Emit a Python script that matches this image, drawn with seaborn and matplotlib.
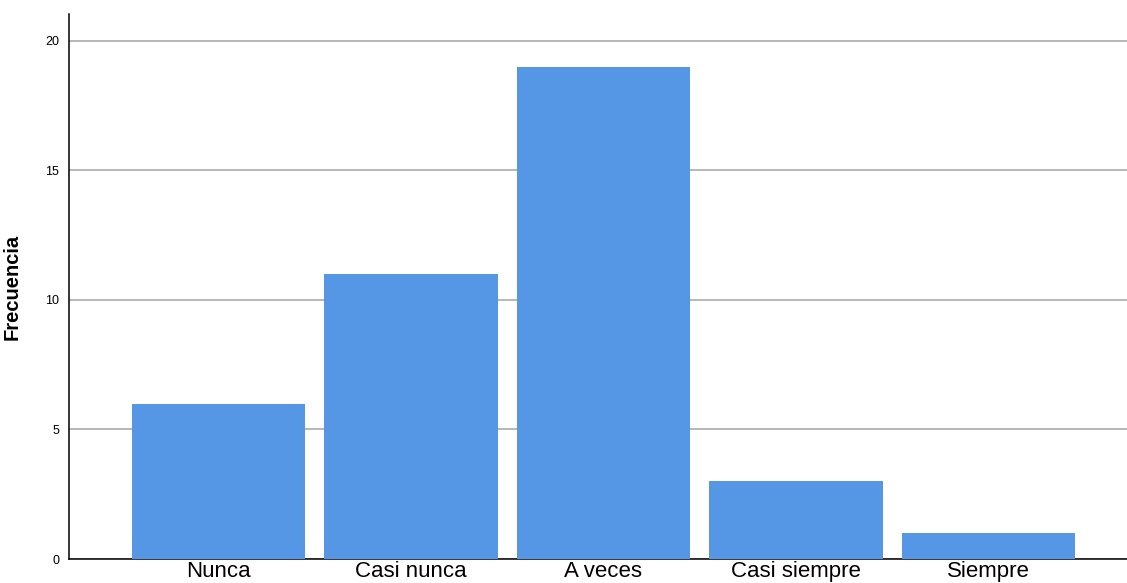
import matplotlib
matplotlib.use("Agg")
import matplotlib.pyplot as plt
import seaborn as sns
import pandas as pd

categories = ["Nunca", "Casi nunca", "A veces", "Casi siempre", "Siempre"]
frequencies = [6, 11, 19, 3, 1]
y_ticks = [0, 5, 10, 15, 20]

sns.set_theme(style="white")
plt.rcParams["font.family"] = ["Liberation Sans", "DejaVu Sans"]

W, H = 1127, 583
fig = plt.figure(figsize=(W / 100, H / 100), dpi=100)
ax = fig.add_axes([69 / W, 24 / H, (W - 69) / W, (559 - 14) / H])

df = pd.DataFrame({"categoria": categories, "frecuencia": frequencies})
sns.barplot(data=df, x="categoria", y="frecuencia", color="#5596e5",
            saturation=1, width=0.9, linewidth=0, ax=ax, zorder=3)

ax.set_xlim(-0.777, 4.72)
ax.set_ylim(0, 21.04)
ax.set_yticks(y_ticks)
ax.yaxis.grid(True, color="#aaaaaa", linewidth=1.2, zorder=0)
ax.set_axisbelow(True)

for side in ("top", "right"):
    ax.spines[side].set_visible(False)
for side in ("left", "bottom"):
    ax.spines[side].set_color("black")
    ax.spines[side].set_linewidth(1.1)

ax.tick_params(axis="x", length=0, pad=1.5, labelsize=16, labelcolor="black")
ax.tick_params(axis="y", length=0, pad=7, labelsize=9, labelcolor="black")
ax.set_xlabel("")
ax.set_ylabel("")

fig.text(22 / W, 1 - 287 / H, "Frecuencia", rotation=90, ha="right",
         va="center", fontsize=14.5, fontweight="bold", color="black")

fig.savefig("out.png", dpi=100)
